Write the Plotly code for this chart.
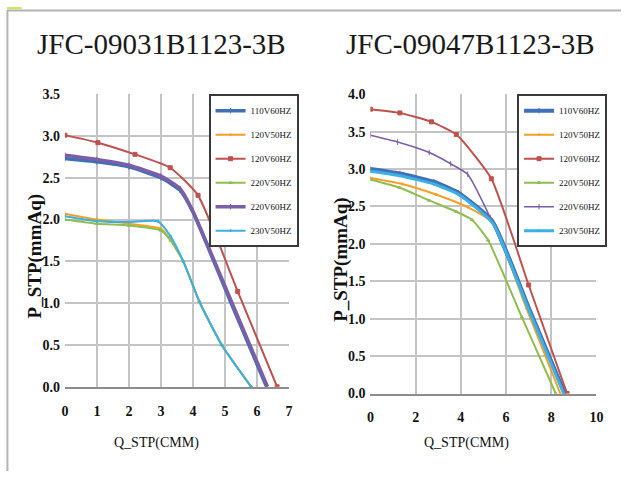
import plotly.graph_objects as go

W, H = 628, 479

series_names = ["110V60HZ", "120V50HZ", "120V60HZ", "220V50HZ", "220V60HZ", "230V50HZ"]
colors = ["#4070b8", "#f5a024", "#c0504d", "#8fbe4f", "#7a5ea8", "#3bb0e2"]

# ---- Left chart: JFC-09031B1123-3B ----
left_title = "JFC-09031B1123-3B"
left_q = {
    "110V60HZ": [0, 1.0, 2.0, 3.0, 3.6, 4.0, 5.15, 6.3],
    "120V50HZ": [0, 1.0, 2.0, 3.0, 3.3, 3.7, 4.2, 4.9, 5.82],
    "120V60HZ": [0, 1.03, 2.19, 3.29, 4.16, 5.4, 6.63],
    "220V50HZ": [0, 1.0, 2.0, 3.0, 3.3, 3.7, 4.2, 4.9, 5.82],
    "220V60HZ": [0, 1.0, 2.0, 3.0, 3.6, 4.0, 5.17, 6.33],
    "230V50HZ": [0, 1.0, 2.0, 2.9, 3.3, 3.7, 4.2, 4.9, 5.82],
}
left_p = {
    "110V60HZ": [2.73, 2.69, 2.63, 2.50, 2.35, 2.09, 1.04, 0.0],
    "120V50HZ": [2.07, 2.00, 1.95, 1.89, 1.76, 1.50, 1.02, 0.50, 0.0],
    "120V60HZ": [3.01, 2.92, 2.78, 2.62, 2.29, 1.14, 0.0],
    "220V50HZ": [2.00, 1.95, 1.93, 1.87, 1.75, 1.50, 1.02, 0.50, 0.0],
    "220V60HZ": [2.77, 2.72, 2.65, 2.52, 2.37, 2.10, 1.05, 0.0],
    "230V50HZ": [2.04, 1.98, 1.97, 1.98, 1.80, 1.50, 1.02, 0.50, 0.0],
}

# ---- Right chart: JFC-09047B1123-3B ----
right_title = "JFC-09047B1123-3B"
right_q = {
    "110V60HZ": [0, 1.3, 2.8, 3.9, 5.4, 7.0, 8.6],
    "120V50HZ": [0, 1.4, 2.9, 4.3, 5.4, 6.9, 8.4],
    "120V60HZ": [0, 1.3, 2.7, 3.8, 5.35, 7.0, 8.7],
    "220V50HZ": [0, 1.3, 2.6, 3.8, 4.5, 5.2, 6.7, 8.2],
    "220V60HZ": [0, 1.2, 2.6, 3.55, 4.3, 5.3, 6.95, 8.6],
    "230V50HZ": [0, 1.3, 2.8, 3.9, 5.4, 7.0, 8.55],
}
right_p = {
    "110V60HZ": [3.00, 2.94, 2.83, 2.68, 2.30, 1.15, 0.0],
    "120V50HZ": [2.88, 2.80, 2.66, 2.49, 2.28, 1.14, 0.0],
    "120V60HZ": [3.80, 3.75, 3.63, 3.46, 2.87, 1.45, 0.0],
    "220V50HZ": [2.86, 2.75, 2.58, 2.43, 2.32, 2.05, 1.02, 0.0],
    "220V60HZ": [3.45, 3.36, 3.22, 3.07, 2.93, 2.35, 1.17, 0.0],
    "230V50HZ": [2.97, 2.91, 2.80, 2.66, 2.28, 1.12, 0.0],
}

x_title = "Q_STP(CMM)"
y_title = "P_STP(mmAq)"

left_widths = [3.5, 2, 2, 2, 3.5, 2]
right_widths = [4, 2, 2, 2, 1.6, 3]
symbols = ["line-ns-open", "circle", "square", "triangle-up", "line-ns-open", "diamond"]
msizes = [4, 2, 4, 3, 4, 2]

SERIF = "Liberation Serif"

fig = go.Figure()

for i, name in enumerate(series_names):
    fig.add_trace(go.Scatter(
        x=left_q[name], y=left_p[name], name=name, mode="lines+markers",
        line=dict(color=colors[i], width=left_widths[i], shape="spline", smoothing=0.5),
        marker=dict(symbol=symbols[i], size=msizes[i], color=colors[i],
                    line=dict(color=colors[i], width=1)),
        xaxis="x", yaxis="y", legend="legend", legendgroup="L" + name,
    ))
for i, name in enumerate(series_names):
    fig.add_trace(go.Scatter(
        x=right_q[name], y=right_p[name], name=name, mode="lines+markers",
        line=dict(color=colors[i], width=right_widths[i], shape="spline", smoothing=0.5),
        marker=dict(symbol=symbols[i], size=msizes[i], color=colors[i],
                    line=dict(color=colors[i], width=1)),
        xaxis="x2", yaxis="y2", legend="legend2", legendgroup="R" + name,
    ))

def px_x(p):
    return p / W

def px_y(p):
    return 1 - p / H

axis_common = dict(
    showgrid=True, gridcolor="#c4c4c4", gridwidth=1.5,
    zeroline=False, ticks="",
    tickfont=dict(family=SERIF, size=14, color="#111111", weight="bold"),
    fixedrange=True,
)

fig.update_layout(
    width=W, height=H,
    margin=dict(l=0, r=0, t=0, b=0),
    paper_bgcolor="white", plot_bgcolor="white",
    showlegend=True,
    xaxis=dict(domain=[px_x(62), px_x(290)], range=[0, 7], dtick=1, anchor="y",
               showline=True, linecolor="#8c8c8c", linewidth=2, ticklabelstandoff=10,
               **axis_common),
    yaxis=dict(domain=[px_y(392), px_y(90)], range=[0, 3.5], dtick=0.5, anchor="x",
               tickformat=".1f", showline=False, ticklabelstandoff=4, **axis_common),
    xaxis2=dict(domain=[px_x(373), px_x(603)], range=[0, 10], dtick=2, anchor="y2",
                showline=True, linecolor="#8c8c8c", linewidth=2, ticklabelstandoff=10,
                **axis_common),
    yaxis2=dict(domain=[px_y(399), px_y(90)], range=[0, 4], dtick=0.5, anchor="x2",
                tickformat=".1f", showline=False, ticklabelstandoff=4, **axis_common),
)

legend_style = dict(
    font=dict(family=SERIF, size=9, color="#111111"),
    bgcolor="white", bordercolor="#3a3a3a", borderwidth=2,
    traceorder="grouped", tracegroupgap=5,
    yanchor="top", y=px_y(90), xanchor="center",
    itemclick=False, itemdoubleclick=False,
)
fig.update_layout(
    legend=dict(x=px_x(254), **legend_style),
    legend2=dict(x=px_x(568), **legend_style),
)

annotations = [
    dict(text=left_title, x=px_x(160), y=px_y(38), xref="paper", yref="paper",
         showarrow=False, font=dict(family=SERIF, size=29, color="#1a1a1a"),
         xanchor="center", yanchor="middle"),
    dict(text=right_title, x=px_x(475), y=px_y(38), xref="paper", yref="paper",
         showarrow=False, font=dict(family=SERIF, size=29, color="#1a1a1a"),
         xanchor="center", yanchor="middle"),
    dict(text=x_title, x=px_x(155), y=px_y(450), xref="paper", yref="paper",
         showarrow=False, font=dict(family=SERIF, size=14, color="#111111"),
         xanchor="center", yanchor="middle"),
    dict(text=x_title, x=px_x(471), y=px_y(450), xref="paper", yref="paper",
         showarrow=False, font=dict(family=SERIF, size=14, color="#111111"),
         xanchor="center", yanchor="middle"),
    dict(text="<b>" + y_title + "</b>", x=px_x(31), y=px_y(257), xref="paper", yref="paper",
         showarrow=False, textangle=-90, font=dict(family=SERIF, size=19, color="#111111"),
         xanchor="center", yanchor="middle"),
    dict(text="<b>" + y_title + "</b>", x=px_x(343), y=px_y(260), xref="paper", yref="paper",
         showarrow=False, textangle=-90, font=dict(family=SERIF, size=19, color="#111111"),
         xanchor="center", yanchor="middle"),
]
fig.update_layout(annotations=annotations)

shapes = [
    dict(type="line", xref="paper", yref="paper", x0=px_x(3), x1=1, y0=px_y(3.5), y1=px_y(3.5),
         line=dict(color="#b4b4b4", width=2)),
    dict(type="line", xref="paper", yref="paper", x0=px_x(3.5), x1=px_x(3.5), y0=0, y1=px_y(3),
         line=dict(color="#b4b4b4", width=2)),
    dict(type="rect", xref="paper", yref="paper", x0=px_x(3), x1=px_x(18), y0=px_y(2.5), y1=1,
         line=dict(width=0), fillcolor="#cde36e"),
]
fig.update_layout(shapes=shapes)

fig.write_html("out.html", config={"displayModeBar": False},
               post_script="document.body.style.margin='0';document.body.style.overflow='hidden';")
